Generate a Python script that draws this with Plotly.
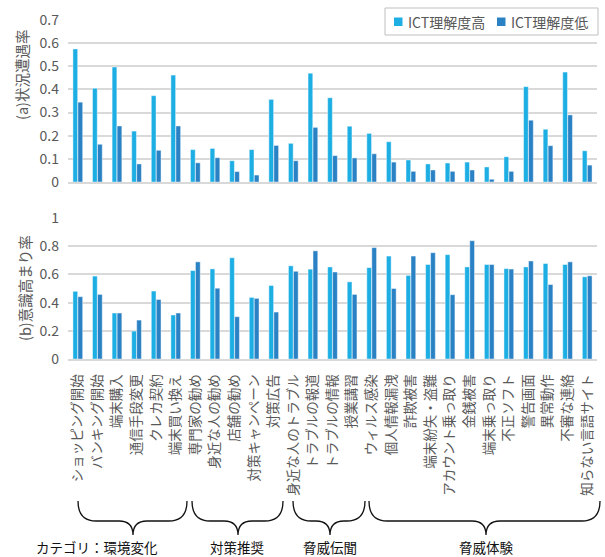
import plotly.graph_objects as go

categories = [
    "ショッピング開始", "バンキング開始", "端末購入", "通信手段変更", "クレカ契約", "端末買い換え",
    "専門家の勧め", "身近な人の勧め", "店舗の勧め", "対策キャンペーン", "対策広告",
    "身近な人のトラブル", "トラブルの報道", "トラブルの情報", "授業講習",
    "ウィルス感染", "個人情報漏洩", "詐欺被害", "端末紛失・盗難", "アカウント乗っ取り",
    "金銭被害", "端末乗っ取り", "不正ソフト", "警告画面", "異常動作", "不審な連絡", "知らない言語サイト",
]

# (a) 状況遭遇率
high_a = [0.575, 0.405, 0.497, 0.220, 0.373, 0.462, 0.140, 0.145, 0.092, 0.140, 0.357, 0.167,
          0.470, 0.364, 0.241, 0.210, 0.174, 0.095, 0.078, 0.082, 0.086, 0.065, 0.109, 0.412,
          0.228, 0.475, 0.135]
low_a = [0.345, 0.163, 0.242, 0.078, 0.137, 0.242, 0.083, 0.105, 0.045, 0.030, 0.158, 0.092,
         0.236, 0.114, 0.104, 0.122, 0.086, 0.046, 0.052, 0.046, 0.052, 0.012, 0.046, 0.267,
         0.157, 0.290, 0.073]

# (b) 意識高まり率
high_b = [0.480, 0.588, 0.326, 0.198, 0.482, 0.312, 0.627, 0.639, 0.718, 0.437, 0.521, 0.661,
          0.637, 0.653, 0.547, 0.648, 0.730, 0.593, 0.670, 0.740, 0.653, 0.670, 0.641, 0.653,
          0.677, 0.670, 0.583]
low_b = [0.442, 0.458, 0.326, 0.276, 0.422, 0.326, 0.689, 0.502, 0.300, 0.430, 0.333, 0.622,
         0.767, 0.617, 0.458, 0.790, 0.500, 0.730, 0.754, 0.456, 0.839, 0.670, 0.638, 0.695,
         0.528, 0.689, 0.590]

series_names = ["ICT理解度高", "ICT理解度低"]
group_labels = ["カテゴリ：環境変化", "対策推奨", "脅威伝聞", "脅威体験"]

C_HIGH = "#1DAEE4"
C_LOW = "#2A82C5"
GRID = "#d9d9d9"
TXT = "#595959"
FONT = "Noto Sans CJK JP, Noto Sans, sans-serif"

# plot area in pixels
L, R, T, B = 68, 597, 20, 359
W, H = R - L, B - T


def px(x):
    return (x - L) / W


def py(y):
    return (B - y) / H


edge = dict(color="rgba(255,255,255,0.55)", width=0.8)

fig = go.Figure()
fig.add_trace(go.Bar(x=categories, y=high_a, name=series_names[0], marker=dict(color=C_HIGH, line=edge),
                     xaxis="x2", yaxis="y2"))
fig.add_trace(go.Bar(x=categories, y=low_a, name=series_names[1], marker=dict(color=C_LOW, line=edge),
                     xaxis="x2", yaxis="y2"))
fig.add_trace(go.Bar(x=categories, y=high_b, name=series_names[0], marker=dict(color=C_HIGH, line=edge),
                     xaxis="x", yaxis="y"))
fig.add_trace(go.Bar(x=categories, y=low_b, name=series_names[1], marker=dict(color=C_LOW, line=edge),
                     xaxis="x", yaxis="y"))

top_dom = [py(182), 1]
bot_dom = [0, py(218)]

shapes = []
braces = [(78, 187, 133), (192, 283, 238), (293, 365, 330), (369, 600, 486)]
yt, ym, yb = 501, 521, 535
re_, rt = 18, 14
for x0, x1, xc in braces:
    pts = (
        f"M {px(x0)},{py(yt)} "
        f"Q {px(x0)},{py(ym)} {px(x0 + re_)},{py(ym)} "
        f"L {px(xc - rt)},{py(ym)} "
        f"Q {px(xc)},{py(ym)} {px(xc)},{py(yb)} "
        f"Q {px(xc)},{py(ym)} {px(xc + rt)},{py(ym)} "
        f"L {px(x1 - re_)},{py(ym)} "
        f"Q {px(x1)},{py(ym)} {px(x1)},{py(yt)}"
    )
    shapes.append(dict(type="path", path=pts, xref="paper", yref="paper",
                       line=dict(color="#111111", width=1.3)))

# custom legend box
shapes.append(dict(type="rect", xref="paper", yref="paper", x0=px(385), x1=px(598), y0=py(35), y1=py(8),
                   fillcolor="white", line=dict(color="#bfbfbf", width=1), layer="above"))
annotations = []
leg_sq = [(394, C_HIGH), (497, C_LOW)]
for (sx, col), name in zip(leg_sq, series_names):
    shapes.append(dict(type="rect", xref="paper", yref="paper", x0=px(sx), x1=px(sx + 8.5),
                       y0=py(26), y1=py(17.5), fillcolor=col, line=dict(width=0), layer="above"))
    annotations.append(dict(x=px(sx + 11.5), y=py(21.5), xref="paper", yref="paper", text=name,
                            showarrow=False, xanchor="left", yanchor="middle",
                            font=dict(size=14, color=TXT, family=FONT)))

label_x = [97, 237, 330, 486]
for lx, txt in zip(label_x, group_labels):
    annotations.append(dict(x=px(lx), y=py(547), xref="paper", yref="paper", text=txt,
                            showarrow=False, xanchor="center", yanchor="middle",
                            font=dict(size=13.5, color="#111111", family=FONT)))

annotations.append(dict(x=px(22), y=py(75), xref="paper", yref="paper", text="(a)状況遭遇率",
                        textangle=-90, showarrow=False, xanchor="center", yanchor="middle",
                        font=dict(size=14.5, color=TXT, family=FONT)))
annotations.append(dict(x=px(24), y=py(288), xref="paper", yref="paper", text="(b)意識高まり率",
                        textangle=-90, showarrow=False, xanchor="center", yanchor="middle",
                        font=dict(size=14.5, color=TXT, family=FONT)))

fig.update_layout(
    width=605, height=557,
    margin=dict(l=L, r=605 - R, t=T, b=557 - B),
    paper_bgcolor="white", plot_bgcolor="white",
    barmode="group", bargap=0.49, bargroupgap=0.05,
    font=dict(family=FONT, color=TXT),
    xaxis=dict(domain=[0, 1], anchor="y", showgrid=False, showline=True, linecolor=GRID, linewidth=1.5,
               tickangle=-90, tickfont=dict(size=13.5, color=TXT, family=FONT),
               ticks="", ticklabelstandoff=8, fixedrange=True),
    yaxis=dict(domain=bot_dom, anchor="x", range=[0, 1], dtick=0.2, showgrid=True, gridcolor=GRID,
               gridwidth=1.5, zeroline=False, showline=False,
               tickfont=dict(size=14, color=TXT, family=FONT), ticklabelstandoff=8),
    xaxis2=dict(domain=[0, 1], anchor="y2", showgrid=False, showline=True, linecolor=GRID, linewidth=1.5,
                showticklabels=False, ticks="", matches="x"),
    yaxis2=dict(domain=top_dom, anchor="x2", range=[0, 0.7], dtick=0.1, showgrid=True, gridcolor=GRID,
                gridwidth=1.5, zeroline=False, showline=False,
                tickfont=dict(size=14, color=TXT, family=FONT), ticklabelstandoff=8),
    shapes=shapes,
    annotations=annotations,
    showlegend=False,
)

fig.write_html("out.html", config={"displayModeBar": False},
               post_script="document.body.style.margin='0';")
